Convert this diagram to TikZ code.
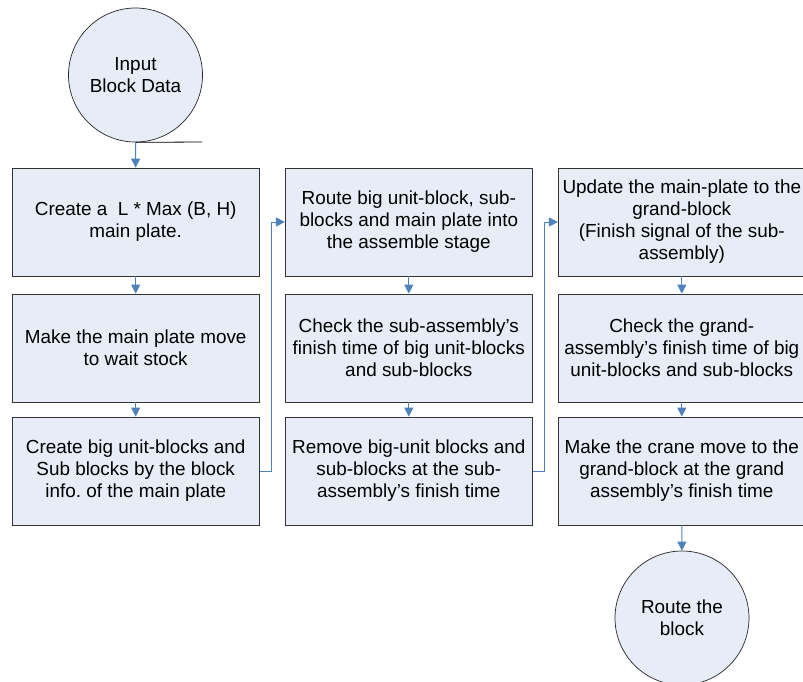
\documentclass[tikz,border=0pt]{standalone}
\usepackage{fontspec}
\setmainfont{Liberation Sans}
\usetikzlibrary{arrows.meta}
\definecolor{boxfill}{RGB}{231,236,247}
\definecolor{linkblue}{RGB}{79,129,189}
\frenchspacing
\begin{document}
\begin{tikzpicture}[x=1pt,y=-1pt,
  stepbox/.style={draw=black!80, fill=boxfill, line width=0.8pt,
    minimum width=247pt, minimum height=108pt, align=center,
    font=\fontsize{18.9}{22}\selectfont, inner sep=0pt},
  endcircle/.style={circle, draw=black!85, fill=boxfill, line width=0.7pt,
    minimum size=134pt, align=center,
    font=\fontsize{18.9}{22}\selectfont, inner sep=0pt},
  link/.style={draw=linkblue, line width=0.9pt, -{Triangle[length=9pt,width=9pt]}}]
\useasboundingbox (0,0) rectangle (803,681);

\node[endcircle] (in) at (135.5,75) {Input\\Block Data};
\coordinate (stub) at (202,142);

\node[stepbox] (c1r1) at (135.7,222) {Create a \ L * Max (B, H)\\main plate.};
\node[stepbox] (c1r2) at (135.7,348) {Make the main plate move\\to wait stock};
\node[stepbox] (c1r3) at (135.7,471) {Create big unit-blocks and\\Sub blocks by the block\\info. of the main plate};

\node[stepbox] (c2r1) at (408.8,222) {Route big unit-block, sub-\\blocks and main plate into\\the assemble stage};
\node[stepbox] (c2r2) at (408.8,348) {Check the sub-assembly’s\\finish time of big unit-blocks\\and sub-blocks};
\node[stepbox] (c2r3) at (408.8,471) {Remove big-unit blocks and\\sub-blocks at the sub-\\assembly’s finish time};

\node[stepbox] (c3r1) at (681.8,222) {Update the main-plate to the\\grand-block\\(Finish signal of the sub-\\assembly)};
\node[stepbox] (c3r2) at (681.8,348) {Check the grand-\\assembly’s finish time of big\\unit-blocks and sub-blocks};
\node[stepbox] (c3r3) at (681.8,471) {Make the crane move to the\\grand-block at the grand\\assembly’s finish time};

\node[endcircle] (out) at (682,618) {Route the\\block};

\coordinate (j1) at (271.7,0);
\coordinate (j2) at (544.3,0);

\draw[black, line width=0.8pt] (in.south) -- (stub);
\draw[link] (in) -- (c1r1);
\draw[link] (c1r1) -- (c1r2);
\draw[link] (c1r2) -- (c1r3);
\draw[link] (c1r3.east) -- (c1r3.east -| j1) |- (c2r1.west);
\draw[link] (c2r1) -- (c2r2);
\draw[link] (c2r2) -- (c2r3);
\draw[link] (c2r3.east) -- (c2r3.east -| j2) |- (c3r1.west);
\draw[link] (c3r1) -- (c3r2);
\draw[link] (c3r2) -- (c3r3);
\draw[link] (c3r3) -- (out);
\end{tikzpicture}
\end{document}
